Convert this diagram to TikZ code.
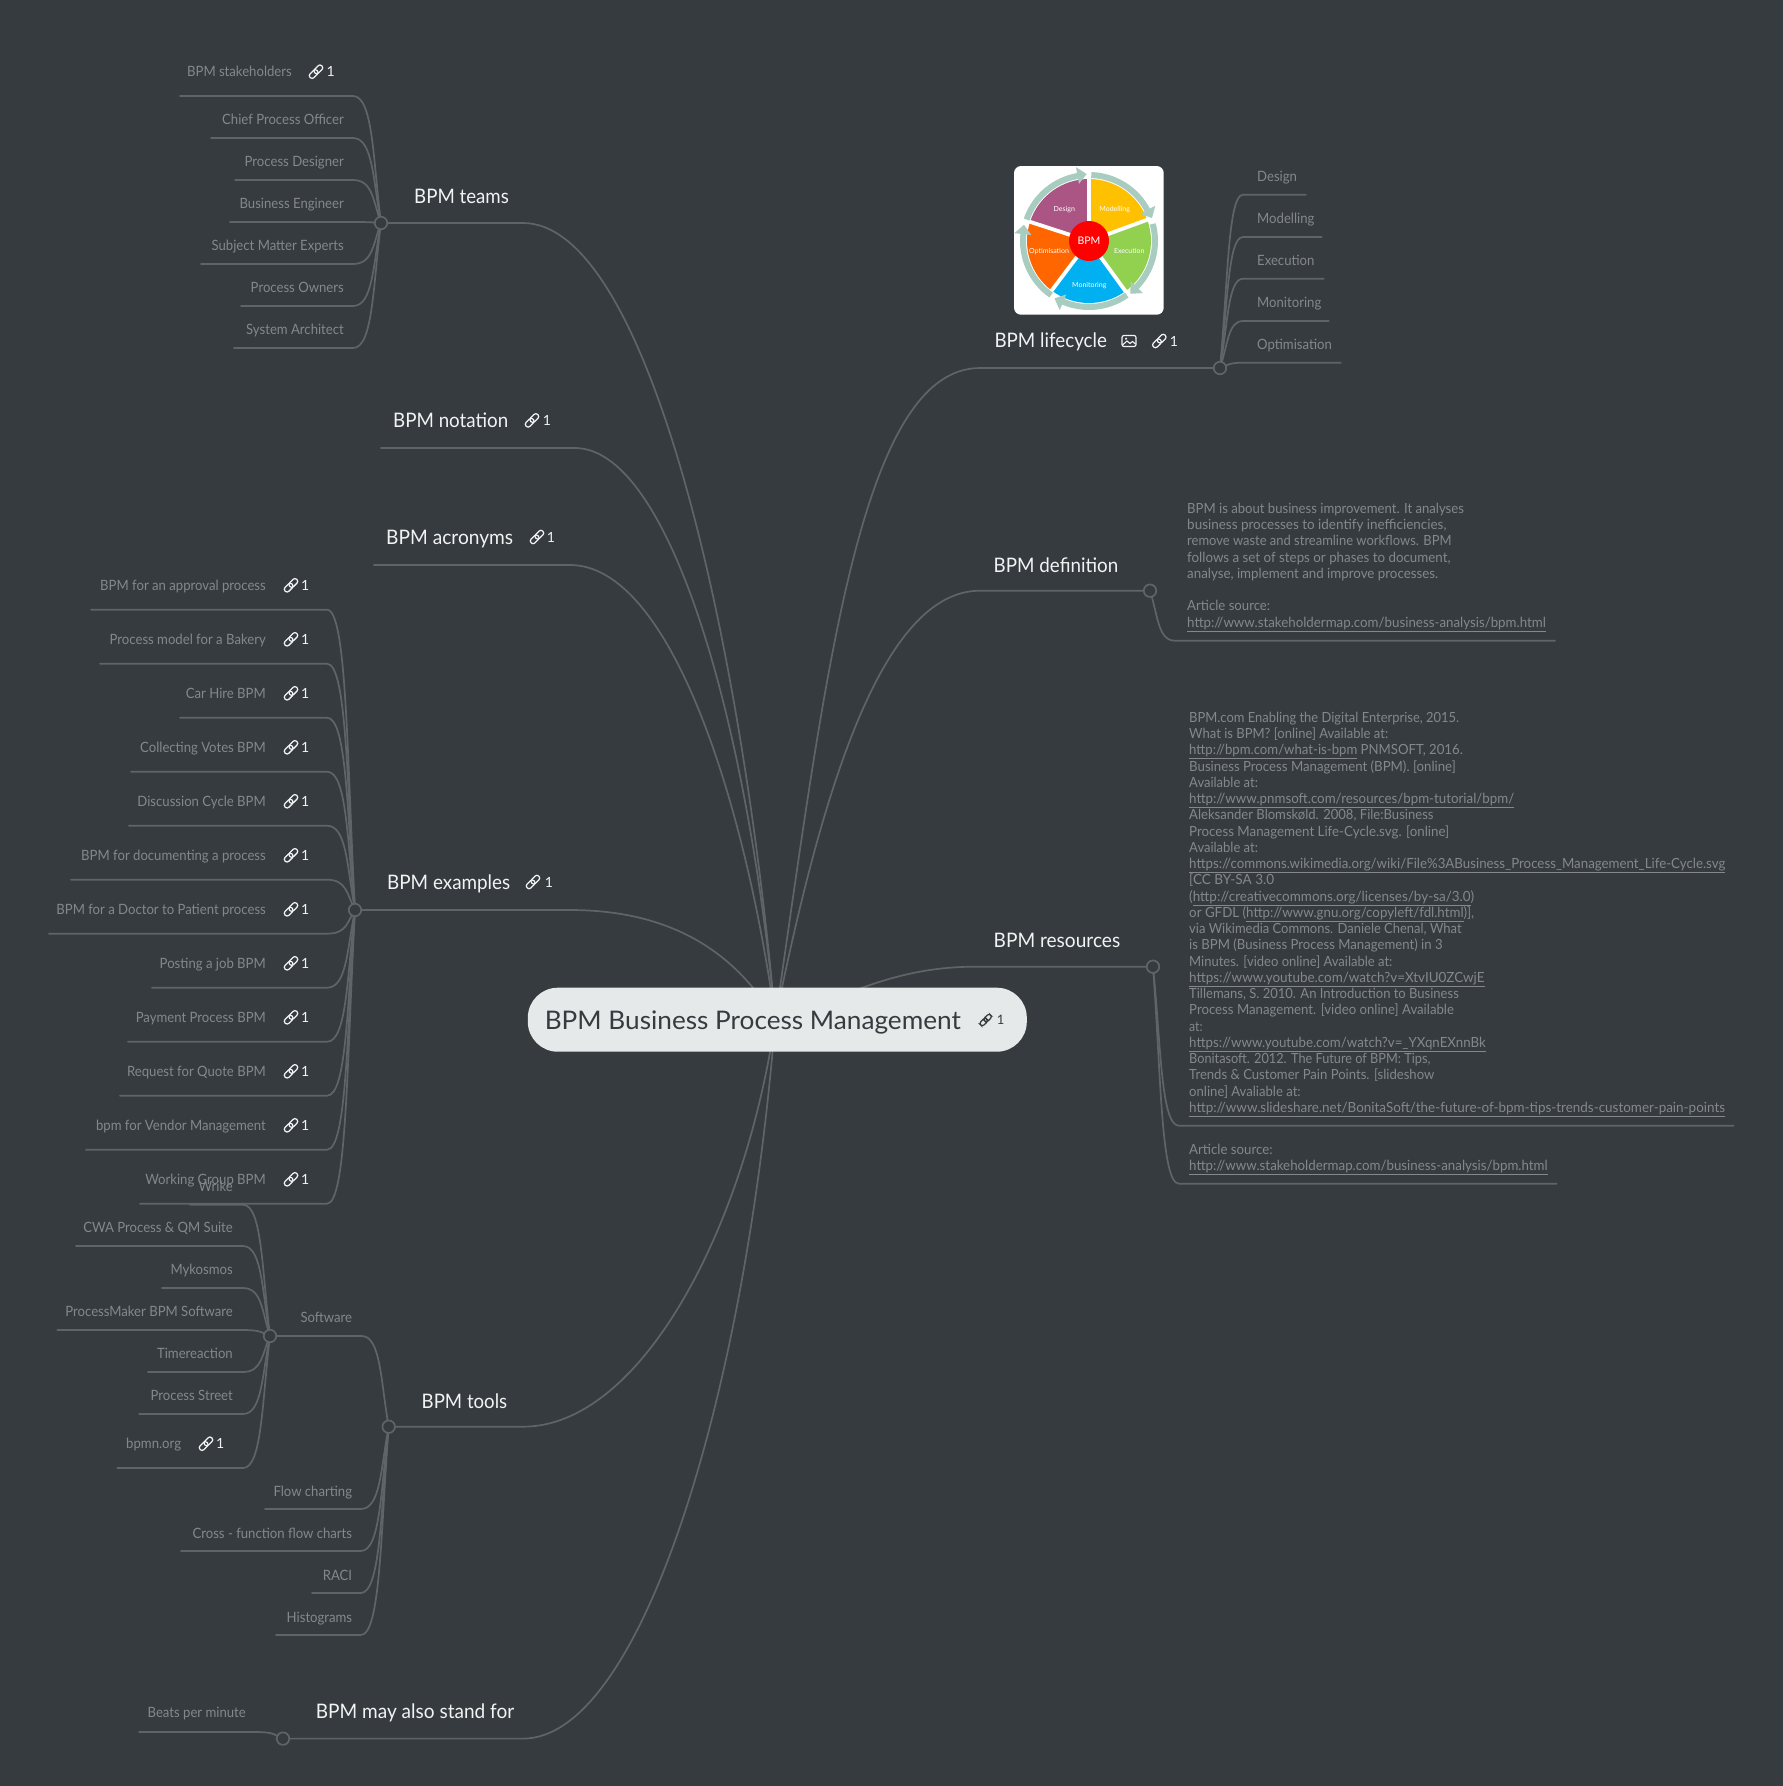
\documentclass[tikz,border=0pt]{standalone}
\usepackage{graphicx}
\usepackage{fontspec}
\setmainfont{Lato}
\newfontfamily\leaffont{Lato}[FakeStretch=0.925]
\usetikzlibrary{calc}
\definecolor{bgc}{HTML}{353B3F}
\definecolor{linec}{HTML}{5F6467}
\definecolor{leafc}{HTML}{84888B}
\definecolor{topc}{HTML}{F2F3F3}
\definecolor{rootc}{HTML}{E6E9EA}
\definecolor{roott}{HTML}{353B3F}
\definecolor{ringc}{HTML}{A9CCC0}
\pgfdeclarelayer{bg}
\pgfsetlayers{bg,main}
\tikzset{
 conn/.style={draw=linec,line width=1.7pt,line cap=round},
 mainconn/.style={draw=linec,line width=1.7pt,line cap=round},
 knob/.style={circle,draw=linec,fill=bgc,line width=1.7pt,minimum size=12.5pt,inner sep=0pt},
 leaf/.style={text=leafc,font=\leaffont\fontsize{14.2}{16}\selectfont,inner sep=0pt,text height=13pt,text depth=3pt},
 rightleaf/.style={leaf,anchor=west},
 leftleaf/.style={leaf,anchor=east},
 topic/.style={text=topc,font=\fontsize{20}{24}\selectfont,inner sep=0pt,anchor=west,text height=20pt,text depth=5.6pt},
 num/.style={text=topc,font=\fontsize{14}{16}\selectfont,inner sep=0pt,text height=13pt,text depth=3pt},
 body/.style={text=leafc,font=\fontsize{14}{16}\selectfont,inner sep=0pt,anchor=west,text height=13pt,text depth=3pt},
 wl/.style={text=white,font=\fontsize{7}{8}\selectfont,inner sep=0pt},
 linkicon/.pic={\begin{scope}[rotate=45,x=1pt,y=1pt]
   \draw[#1,line width=1.25pt,rounded corners=2.4pt] (-8.2,-2.7) rectangle (1.6,2.7);
   \draw[#1,line width=1.25pt,rounded corners=2.4pt] (-1.6,-2.7) rectangle (8.2,2.7);
 \end{scope}}
}
\newcommand\con[6]{\coordinate (#6) at (#5,#4);
 \begin{pgfonlayer}{bg}\draw[conn] let \p1=(#1) in (\p1) .. controls ({\x1+#2*8pt},{0.5*\y1-0.5*#4*1pt}) and ({\x1+#2*8pt},{-#4*1pt}) .. ({\x1+#2*#3*1pt},{-#4*1pt}) -- (#6);\end{pgfonlayer}}
\newcommand\fw[2]{\resizebox{#1pt}{\height}{#2}}
\newcommand\ul[1]{\underline{#1}}
\newcommand\lk[3]{\pic at (#1,#3) {linkicon=topc}; \node[num] (#1n#3) at (#2,#3) {1};}
\begin{document}
\begin{tikzpicture}[x=1pt,y=-1pt]
\useasboundingbox (0,0) rectangle (1783,1786);
\begin{pgfonlayer}{bg}
\fill[bgc] (0,0) rectangle (1783,1786);
\end{pgfonlayer}
% root
\node[fill=rootc,rounded corners=30pt,minimum width=499pt,minimum height=64pt,inner sep=0pt] (root) at (777.3,1019.7) {};
\node[text=roott,font=\fontsize{25.6}{30}\selectfont,inner sep=0pt,anchor=west,text height=26pt,text depth=7pt] (roott) at (544.6,1020) {\fw{416}{BPM Business Process Management}};
\pic[scale=.85] at (985.7,1020) {linkicon=roott};
\node[text=roott,font=\fontsize{13}{16}\selectfont,inner sep=0pt] (rootone) at (1000.7,1020) {1};
% knobs
\node[knob] (kteams) at (381,223) {};
\node[knob] (kex) at (355,910) {};
\node[knob] (ktools) at (388.7,1426.7) {};
\node[knob] (ksoft) at (270,1336) {};
\node[knob] (kalso) at (283,1738.6) {};
\node[knob] (klife) at (1220,368) {};
\node[knob] (kdef) at (1150,590.7) {};
\node[knob] (kres) at (1153,966.7) {};
\coordinate (enot) at (381,448);
\coordinate (eacr) at (374,565);
% main curves
\begin{pgfonlayer}{bg}
\draw[mainconn] (root.center) ++(-2,0) .. controls (825,680) and (860,368) .. (980,368) -- (klife);
\draw[mainconn] (root.center) ++(-2,0) .. controls (820,800) and (880,590.7) .. (980,590.7) -- (kdef);
\draw[mainconn] (root.center) ++(-2,0) .. controls (840,1000) and (890,966.7) .. (975,966.7) -- (kres);
\draw[mainconn] (root.center) ++(-2,0) .. controls (740,620) and (645,223) .. (523,223) -- (kteams);
\draw[mainconn] (root.center) ++(-2,0) .. controls (745,700) and (665,448) .. (575,448) -- (enot);
\draw[mainconn] (root.center) ++(-2,0) .. controls (745,800) and (670,565) .. (570,565) -- (eacr);
\draw[mainconn] (root.center) ++(-2,0) .. controls (740,960) and (680,910) .. (570,910) -- (kex);
\draw[mainconn] (root.center) ++(-2,0) .. controls (745,1230) and (640,1426.7) .. (523,1426.7) -- (ktools);
\draw[mainconn] (root.center) ++(-2,0) .. controls (745,1400) and (640,1738.6) .. (523,1738.6) -- (kalso);
\end{pgfonlayer}
% topic labels
\node[topic] (tteams) at (414,196.7) {\fw{94.7}{BPM teams}};
\node[topic] (tnot) at (393,420.4) {\fw{115}{BPM notation}};
\lk{532}{547}{420.4}
\node[topic] (tacr) at (386,537) {\fw{127}{BPM acronyms}};
\lk{537}{551}{537}
\node[topic] (tex) at (387,882) {\fw{123}{BPM examples}};
\lk{533}{549}{882}
\node[topic] (ttools) at (421.5,1401) {\fw{85.5}{BPM tools}};
\node[topic] (talso) at (315.6,1711) {\fw{198.4}{BPM may also stand for}};
\node[topic] (tlife) at (994.3,340) {\fw{112.4}{BPM lifecycle}};
\pic at (1159.3,341) {linkicon=topc};
\node[num] (lifeone) at (1174,341) {1};
\node[topic] (tdef) at (993.5,565) {\fw{124.5}{BPM definition}};
\node[topic] (tres) at (993.5,940) {\fw{126.5}{BPM resources}};
% image icon
\draw[topc,line width=1.2pt,rounded corners=2pt] (1122,335.5) rectangle (1136,346.5);
\draw[topc,line width=1.1pt] (1122.5,345) -- (1127,341) -- (1130,343.5) -- (1132.5,341.5) -- (1135.5,344);
\fill[topc] (1126,338.7) circle (1.2);
% teams leaves
\con{kteams}{-1}{28}{96}{180}{e1}
\con{kteams}{-1}{28}{138}{211}{e2}
\con{kteams}{-1}{28}{180}{235}{e3}
\con{kteams}{-1}{28}{222}{230}{e4}
\con{kteams}{-1}{28}{264}{201}{e5}
\con{kteams}{-1}{28}{306}{241}{e6}
\con{kteams}{-1}{28}{348}{234}{e7}
\node[leftleaf] (t1) at (292,71.7) {BPM stakeholders};
\lk{316}{330.7}{71.7}
\node[leftleaf] (t2) at (344,119.3) {Chief Process Officer};
\node[leftleaf] (t3) at (344,161.3) {Process Designer};
\node[leftleaf] (t4) at (344,203.3) {Business Engineer};
\node[leftleaf] (t5) at (344,245.3) {Subject Matter Experts};
\node[leftleaf] (t6) at (344,287.3) {Process Owners};
\node[leftleaf] (t7) at (344,329.3) {System Architect};
% examples leaves
\con{kex}{-1}{28}{609.7}{91}{x1}
\con{kex}{-1}{28}{663.7}{100}{x2}
\con{kex}{-1}{28}{717.7}{180}{x3}
\con{kex}{-1}{28}{771.7}{131}{x4}
\con{kex}{-1}{28}{825.7}{129}{x5}
\con{kex}{-1}{28}{879.7}{71}{x6}
\con{kex}{-1}{28}{933.7}{49}{x7}
\con{kex}{-1}{28}{987.7}{152}{x8}
\con{kex}{-1}{28}{1041.7}{128}{x9}
\con{kex}{-1}{28}{1095.7}{120}{x10}
\con{kex}{-1}{28}{1149.7}{86}{x11}
\con{kex}{-1}{28}{1203.7}{140}{x12}
\node[leftleaf] (xt1) at (266,585.3) {BPM for an approval process};\lk{291}{305.3}{585.3}
\node[leftleaf] (xt2) at (266,639.3) {Process model for a Bakery};\lk{291}{305.3}{639.3}
\node[leftleaf] (xt3) at (266,693.3) {Car Hire BPM};\lk{291}{305.3}{693.3}
\node[leftleaf] (xt4) at (266,747.3) {Collecting Votes BPM};\lk{291}{305.3}{747.3}
\node[leftleaf] (xt5) at (266,801.3) {Discussion Cycle BPM};\lk{291}{305.3}{801.3}
\node[leftleaf] (xt6) at (266,855.3) {BPM for documenting a process};\lk{291}{305.3}{855.3}
\node[leftleaf] (xt7) at (266,909.3) {BPM for a Doctor to Patient process};\lk{291}{305.3}{909.3}
\node[leftleaf] (xt8) at (266,963.3) {Posting a job BPM};\lk{291}{305.3}{963.3}
\node[leftleaf] (xt9) at (266,1017.3) {Payment Process BPM};\lk{291}{305.3}{1017.3}
\node[leftleaf] (xt10) at (266,1071.3) {Request for Quote BPM};\lk{291}{305.3}{1071.3}
\node[leftleaf] (xt11) at (266,1125.3) {bpm for Vendor Management};\lk{291}{305.3}{1125.3}
\node[leftleaf] (xt12) at (266,1179.3) {Working Group BPM};\lk{291}{305.3}{1179.3}
% tools
\con{ktools}{-1}{27}{1336}{276}{esoft}
\con{ktools}{-1}{28}{1509}{265}{f1}
\con{ktools}{-1}{28}{1551}{181}{f2}
\con{ktools}{-1}{28}{1593}{312}{f3}
\con{ktools}{-1}{28}{1635}{276}{f4}
\node[leftleaf] (st) at (352.3,1317.3) {Software};
\node[leftleaf] (ft1) at (352.3,1491.7) {Flow charting};
\node[leftleaf] (ft2) at (352.3,1533.7) {Cross - function flow charts};
\node[leftleaf] (ft3) at (352.3,1575.7) {RACI};
\node[leftleaf] (ft4) at (352.3,1617.7) {Histograms};
\con{ksoft}{-1}{27}{1204.7}{190}{s1}
\con{ksoft}{-1}{27}{1246}{76}{s2}
\con{ksoft}{-1}{27}{1288}{162}{s3}
\con{ksoft}{-1}{27}{1330}{57.3}{s4}
\con{ksoft}{-1}{27}{1372}{148}{s5}
\con{ksoft}{-1}{27}{1414}{139.3}{s6}
\con{ksoft}{-1}{27}{1468}{117.3}{s7}
\node[leftleaf] (sw1) at (233,1186) {Wrike};
\node[leftleaf] (sw2) at (233,1227.3) {CWA Process \& QM Suite};
\node[leftleaf] (sw3) at (233,1269.3) {Mykosmos};
\node[leftleaf] (sw4) at (233,1311.3) {ProcessMaker BPM Software};
\node[leftleaf] (sw5) at (233,1353.3) {Timereaction};
\node[leftleaf] (sw6) at (233,1395.3) {Process Street};
\node[leftleaf] (sw7) at (181.3,1443.7) {bpmn.org};\lk{206}{220.3}{1443.7}
% also
\con{kalso}{-1}{27}{1732}{139}{b1}
\node[leftleaf] (bt) at (246,1712) {Beats per minute};
% lifecycle leaves
\con{klife}{1}{23}{194.7}{1305.7}{l1}
\con{klife}{1}{23}{237}{1321.7}{l2}
\con{klife}{1}{23}{278.7}{1323.7}{l3}
\con{klife}{1}{23}{321}{1328.7}{l4}
\con{klife}{1}{23}{362.7}{1340.7}{l5}
\node[rightleaf] (lt1) at (1257,176.7) {Design};
\node[rightleaf] (lt2) at (1257,218.7) {Modelling};
\node[rightleaf] (lt3) at (1257,260.7) {Execution};
\node[rightleaf] (lt4) at (1257,302.7) {Monitoring};
\node[rightleaf] (lt5) at (1257,344.3) {Optimisation};
% definition
\con{kdef}{1}{25}{640.7}{1555}{d1}
\node[body] (dl1) at (1187,508.3) {\fw{276.7}{BPM is about business improvement. It analyses}};
\node[body] (dl2) at (1187,524.3) {\fw{259.3}{business processes to identify inefficiencies,}};
\node[body] (dl3) at (1187,540.7) {\fw{264.3}{remove waste and streamline workflows. BPM}};
\node[body] (dl4) at (1187,557.3) {\fw{263.3}{follows a set of steps or phases to document,}};
\node[body] (dl5) at (1187,573.3) {\fw{251}{analyse, implement and improve processes.}};
\node[body] (dl6) at (1187,605.3) {\fw{83}{Article source:}};
\node[body] (dl7) at (1187,622.3) {\fw{358.7}{\ul{http://www.stakeholdermap.com/business-analysis/bpm.html}}};
% resources
\con{kres}{1}{26}{1125.7}{1733.6}{r1}
\con{kres}{1}{26}{1183.7}{1556.5}{r2}
\node[body] (q1) at (1189,717.3) {\fw{270}{BPM.com Enabling the Digital Enterprise, 2015.}};
\node[body] (q2) at (1189,733.3) {\fw{199}{What is BPM? [online] Available at:}};
\node[body] (q3) at (1189,749.7) {\fw{273.6}{\ul{http://bpm.com/what-is-bpm} PNMSOFT, 2016.}};
\node[body] (q4) at (1189,766.3) {\fw{266.5}{Business Process Management (BPM). [online]}};
\node[body] (q5) at (1189,782.3) {\fw{68.8}{Available at:}};
\node[body] (q6) at (1189,798.7) {\fw{325}{\ul{http://www.pnmsoft.com/resources/bpm-tutorial/bpm/}}};
\node[body] (q7) at (1189,814.3) {\fw{244.3}{Aleksander Blomskøld. 2008, File:Business}};
\node[body] (q8) at (1189,831.3) {\fw{260}{Process Management Life-Cycle.svg. [online]}};
\node[body] (q9) at (1189,847.3) {\fw{68.8}{Available at:}};
\node[body] (q10) at (1189,863.3) {\fw{536}{\ul{https://commons.wikimedia.org/wiki/File\%3ABusiness\_Process\_Management\_Life-Cycle.svg}}};
\node[body] (q11) at (1189,879.3) {\fw{85}{[CC BY-SA 3.0}};
\node[body] (q12) at (1189,896.3) {\fw{285}{(\ul{http://creativecommons.org/licenses/by-sa/3.0})}};
\node[body] (q13) at (1189,912.3) {\fw{285}{or GFDL (\ul{http://www.gnu.org/copyleft/fdl.html})],}};
\node[body] (q14) at (1189,928.3) {\fw{272.4}{via Wikimedia Commons. Daniele Chenal, What}};
\node[body] (q15) at (1189,944.3) {\fw{253.4}{is BPM (Business Process Management) in 3}};
\node[body] (q16) at (1189,961.3) {\fw{203.2}{Minutes. [video online] Available at:}};
\node[body] (q17) at (1189,977.7) {\fw{295.3}{\ul{https://www.youtube.com/watch?v=XtvIU0ZCwjE}}};
\node[body] (q18) at (1189,993.3) {\fw{269.6}{Tillemans, S. 2010. An Introduction to Business}};
\node[body] (q19) at (1189,1009.3) {\fw{264.8}{Process Management. [video online] Available}};
\node[body] (q20) at (1189,1026.7) {\fw{13.4}{at:}};
\node[body] (q21) at (1189,1042.3) {\fw{296.5}{\ul{https://www.youtube.com/watch?v=\_YXqnEXnnBk}}};
\node[body] (q22) at (1189,1058.3) {\fw{241.1}{Bonitasoft. 2012. The Future of BPM: Tips,}};
\node[body] (q23) at (1189,1074.3) {\fw{245.1}{Trends \& Customer Pain Points. [slideshow}};
\node[body] (q24) at (1189,1091.3) {\fw{111.5}{online] Avaliable at:}};
\node[body] (q25) at (1189,1107.3) {\fw{535.7}{\ul{http://www.slideshare.net/BonitaSoft/the-future-of-bpm-tips-trends-customer-pain-points}}};
\node[body] (q26) at (1189,1149.3) {\fw{83.4}{Article source:}};
\node[body] (q27) at (1189,1165.3) {\fw{358.5}{\ul{http://www.stakeholdermap.com/business-analysis/bpm.html}}};
% picture of the lifecycle
\fill[white,rounded corners=7pt] (1014,166) rectangle (1163.7,314.7);
\begin{scope}[shift={(1089,241)},y=1pt]
 \foreach \c/\a/\b in {FFC000/90/20,92D050/20/-54,00B0F0/-54/-127,FF6600/-127/-198,AB5585/162/90}{
  \definecolor{wc}{HTML}{\c}
  \fill[wc] (0,0) -- (\a:62) arc (\a:\b:62) -- cycle;
 }
 \foreach \a in {90,20,-54,-127,162}{
  \draw[white,line width=3.8pt] (0,0) -- (\a:66);
 }
 \foreach \s/\t in {88/20,15/-52,-55/-121,-125/-194,161/92}{
  \draw[ringc,line width=6pt] (\s:66) arc (\s:\t+7:66);
  \fill[ringc] (\t+8:58) -- (\t+8:75) -- (\t:67) -- cycle;
 }
\end{scope}
\node[circle,fill=red,minimum size=40pt,inner sep=0pt,text=white,font=\fontsize{10.5}{12}\selectfont] (wbpm) at (1089,241) {BPM};
\node[wl] (w1) at (1064.3,209.3) {Design};
\node[wl] (w2) at (1114.7,209.3) {Modelling};
\node[wl] (w3) at (1129.3,251.3) {Execution};
\node[wl] (w4) at (1089.3,286) {Monitoring};
\node[wl] (w5) at (1049,251.3) {Optimisation};
\end{tikzpicture}
\end{document}
